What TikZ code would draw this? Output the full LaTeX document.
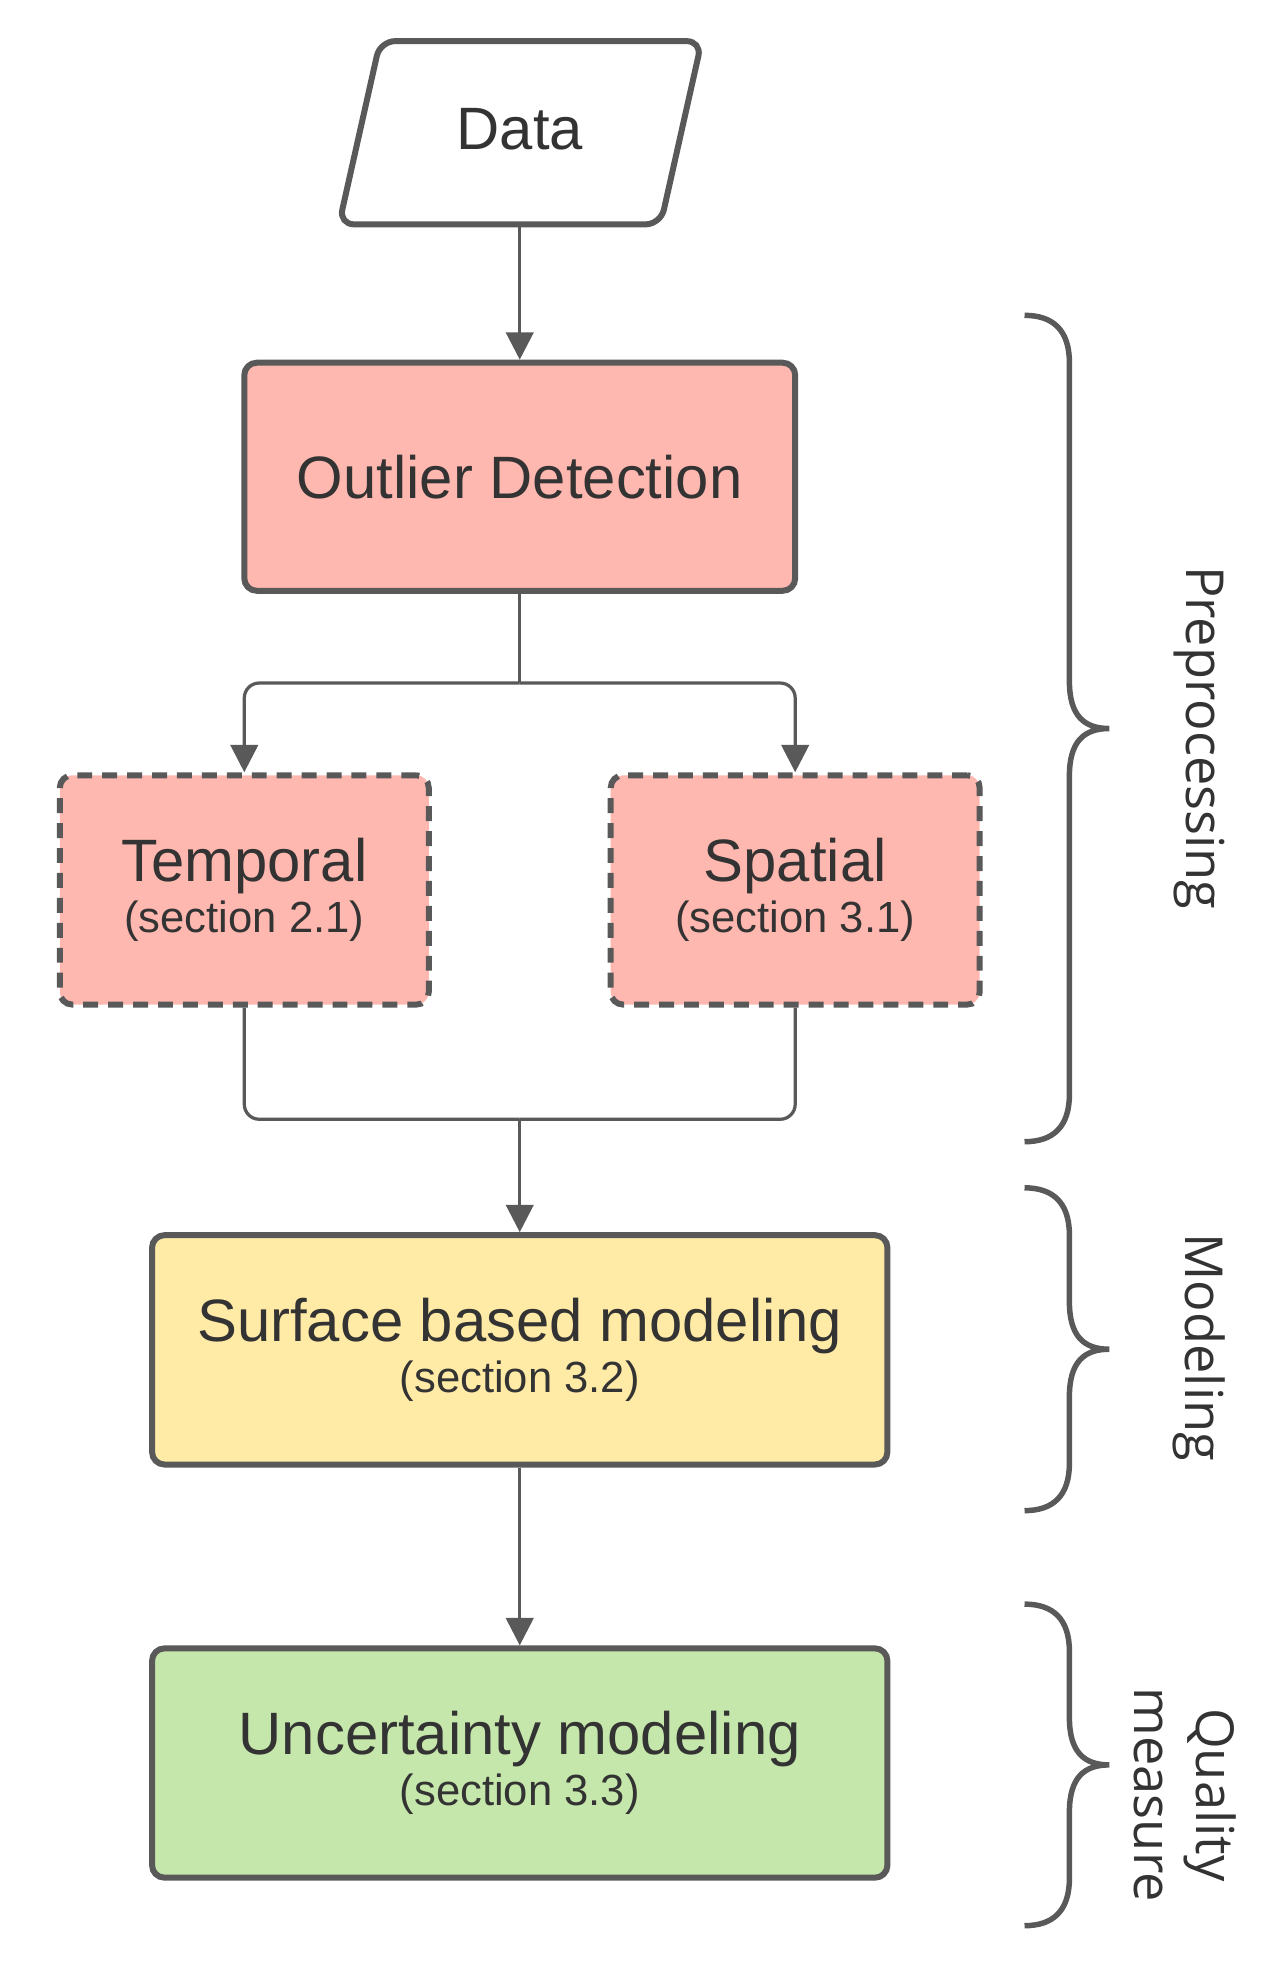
\documentclass[tikz,border=0pt]{standalone}
\usepackage{fontspec}
\setmainfont{Liberation Sans}
\newfontfamily\lbl{Open Sans}
\usetikzlibrary{arrows.meta}
\definecolor{ln}{HTML}{595959}
\definecolor{red}{HTML}{FFB8B0}
\definecolor{yel}{HTML}{FFEAA6}
\definecolor{grn}{HTML}{C6E7AB}
\definecolor{txt}{HTML}{333333}
\begin{document}
\begin{tikzpicture}[x=0.5pt,y=-0.5pt,
  box/.style={draw=ln,line width=2.4pt,rounded corners=5pt,inner sep=0pt,text=txt,align=center},
  big/.style={font=\fontsize{24}{28}\selectfont},
  con/.style={draw=ln,line width=1.3pt,rounded corners=6pt},
  arr/.style={con,-{Triangle[length=11pt,width=11pt]}},
  brace/.style={draw=ln,line width=2.2pt},
  lab/.style={text=txt,font=\lbl\fontsize{21}{25}\selectfont,rotate=-90,align=center}]
\useasboundingbox (0,0) rectangle (1024,1591);
% Data
\draw[draw=ln,line width=2.4pt,rounded corners=6pt] (305,33) -- (563,33) -- (530,180) -- (272,180) -- cycle;
\node[text=txt,big] (data) at (417,104) {Data};
\coordinate (dbot) at (417,180);
\node[box,fill=red,minimum width=221pt,minimum height=91.5pt,big] (out) at (417,382.5) {Outlier Detection};
\node[box,fill=red,dashed,dash pattern=on 6pt off 4pt,minimum width=148pt,minimum height=92pt] (tem) at (196,714)
 {{\fontsize{24}{28}\selectfont Temporal}\\[2pt]{\fontsize{17.5}{20}\selectfont (section 2.1)}};
\node[box,fill=red,dashed,dash pattern=on 6pt off 4pt,minimum width=148pt,minimum height=92pt] (spa) at (638,714)
 {{\fontsize{24}{28}\selectfont Spatial}\\[2pt]{\fontsize{17.5}{20}\selectfont (section 3.1)}};
\node[box,fill=yel,minimum width=295pt,minimum height=92pt] (sur) at (417,1083)
 {{\fontsize{24}{28}\selectfont Surface based modeling}\\[2pt]{\fontsize{17.5}{20}\selectfont (section 3.2)}};
\node[box,fill=grn,minimum width=295pt,minimum height=92pt] (unc) at (417,1414.5)
 {{\fontsize{24}{28}\selectfont Uncertainty modeling}\\[2pt]{\fontsize{17.5}{20}\selectfont (section 3.3)}};
\coordinate (j1) at (417,548);
\coordinate (j2) at (417,898);
\draw[arr] (dbot) -- (out.north);
\draw[con] (out.south) -- (j1);
\draw[arr] (j1) -| (tem.north);
\draw[arr] (j1) -| (spa.north);
\draw[con] (tem.south) |- (j2);
\draw[con] (spa.south) |- (j2);
\draw[arr] (j2) -- (sur.north);
\draw[arr] (sur.south) -- (unc.north);
% braces
\foreach \a/\b in {253/916,953/1212,1287/1545}{
  \pgfmathsetmacro\m{(\a+\b)/2}
  \draw[brace] (822,\a) .. controls (845,\a) and (858,\a+12) .. (858,\a+38)
    -- (858,\m-38) .. controls (858,\m-10) and (870,\m) .. (890,\m)
    .. controls (870,\m) and (858,\m+10) .. (858,\m+38)
    -- (858,\b-38) .. controls (858,\b-12) and (845,\b) .. (822,\b);
}
\node[lab] (l1) at (962,592) {Preprocessing};
\node[lab] (l2) at (962,1081) {Modeling};
\node[lab,font=\lbl\fontsize{21}{25}\selectfont] (l3) at (951,1440) {Quality\\measure};
\end{tikzpicture}
\end{document}
